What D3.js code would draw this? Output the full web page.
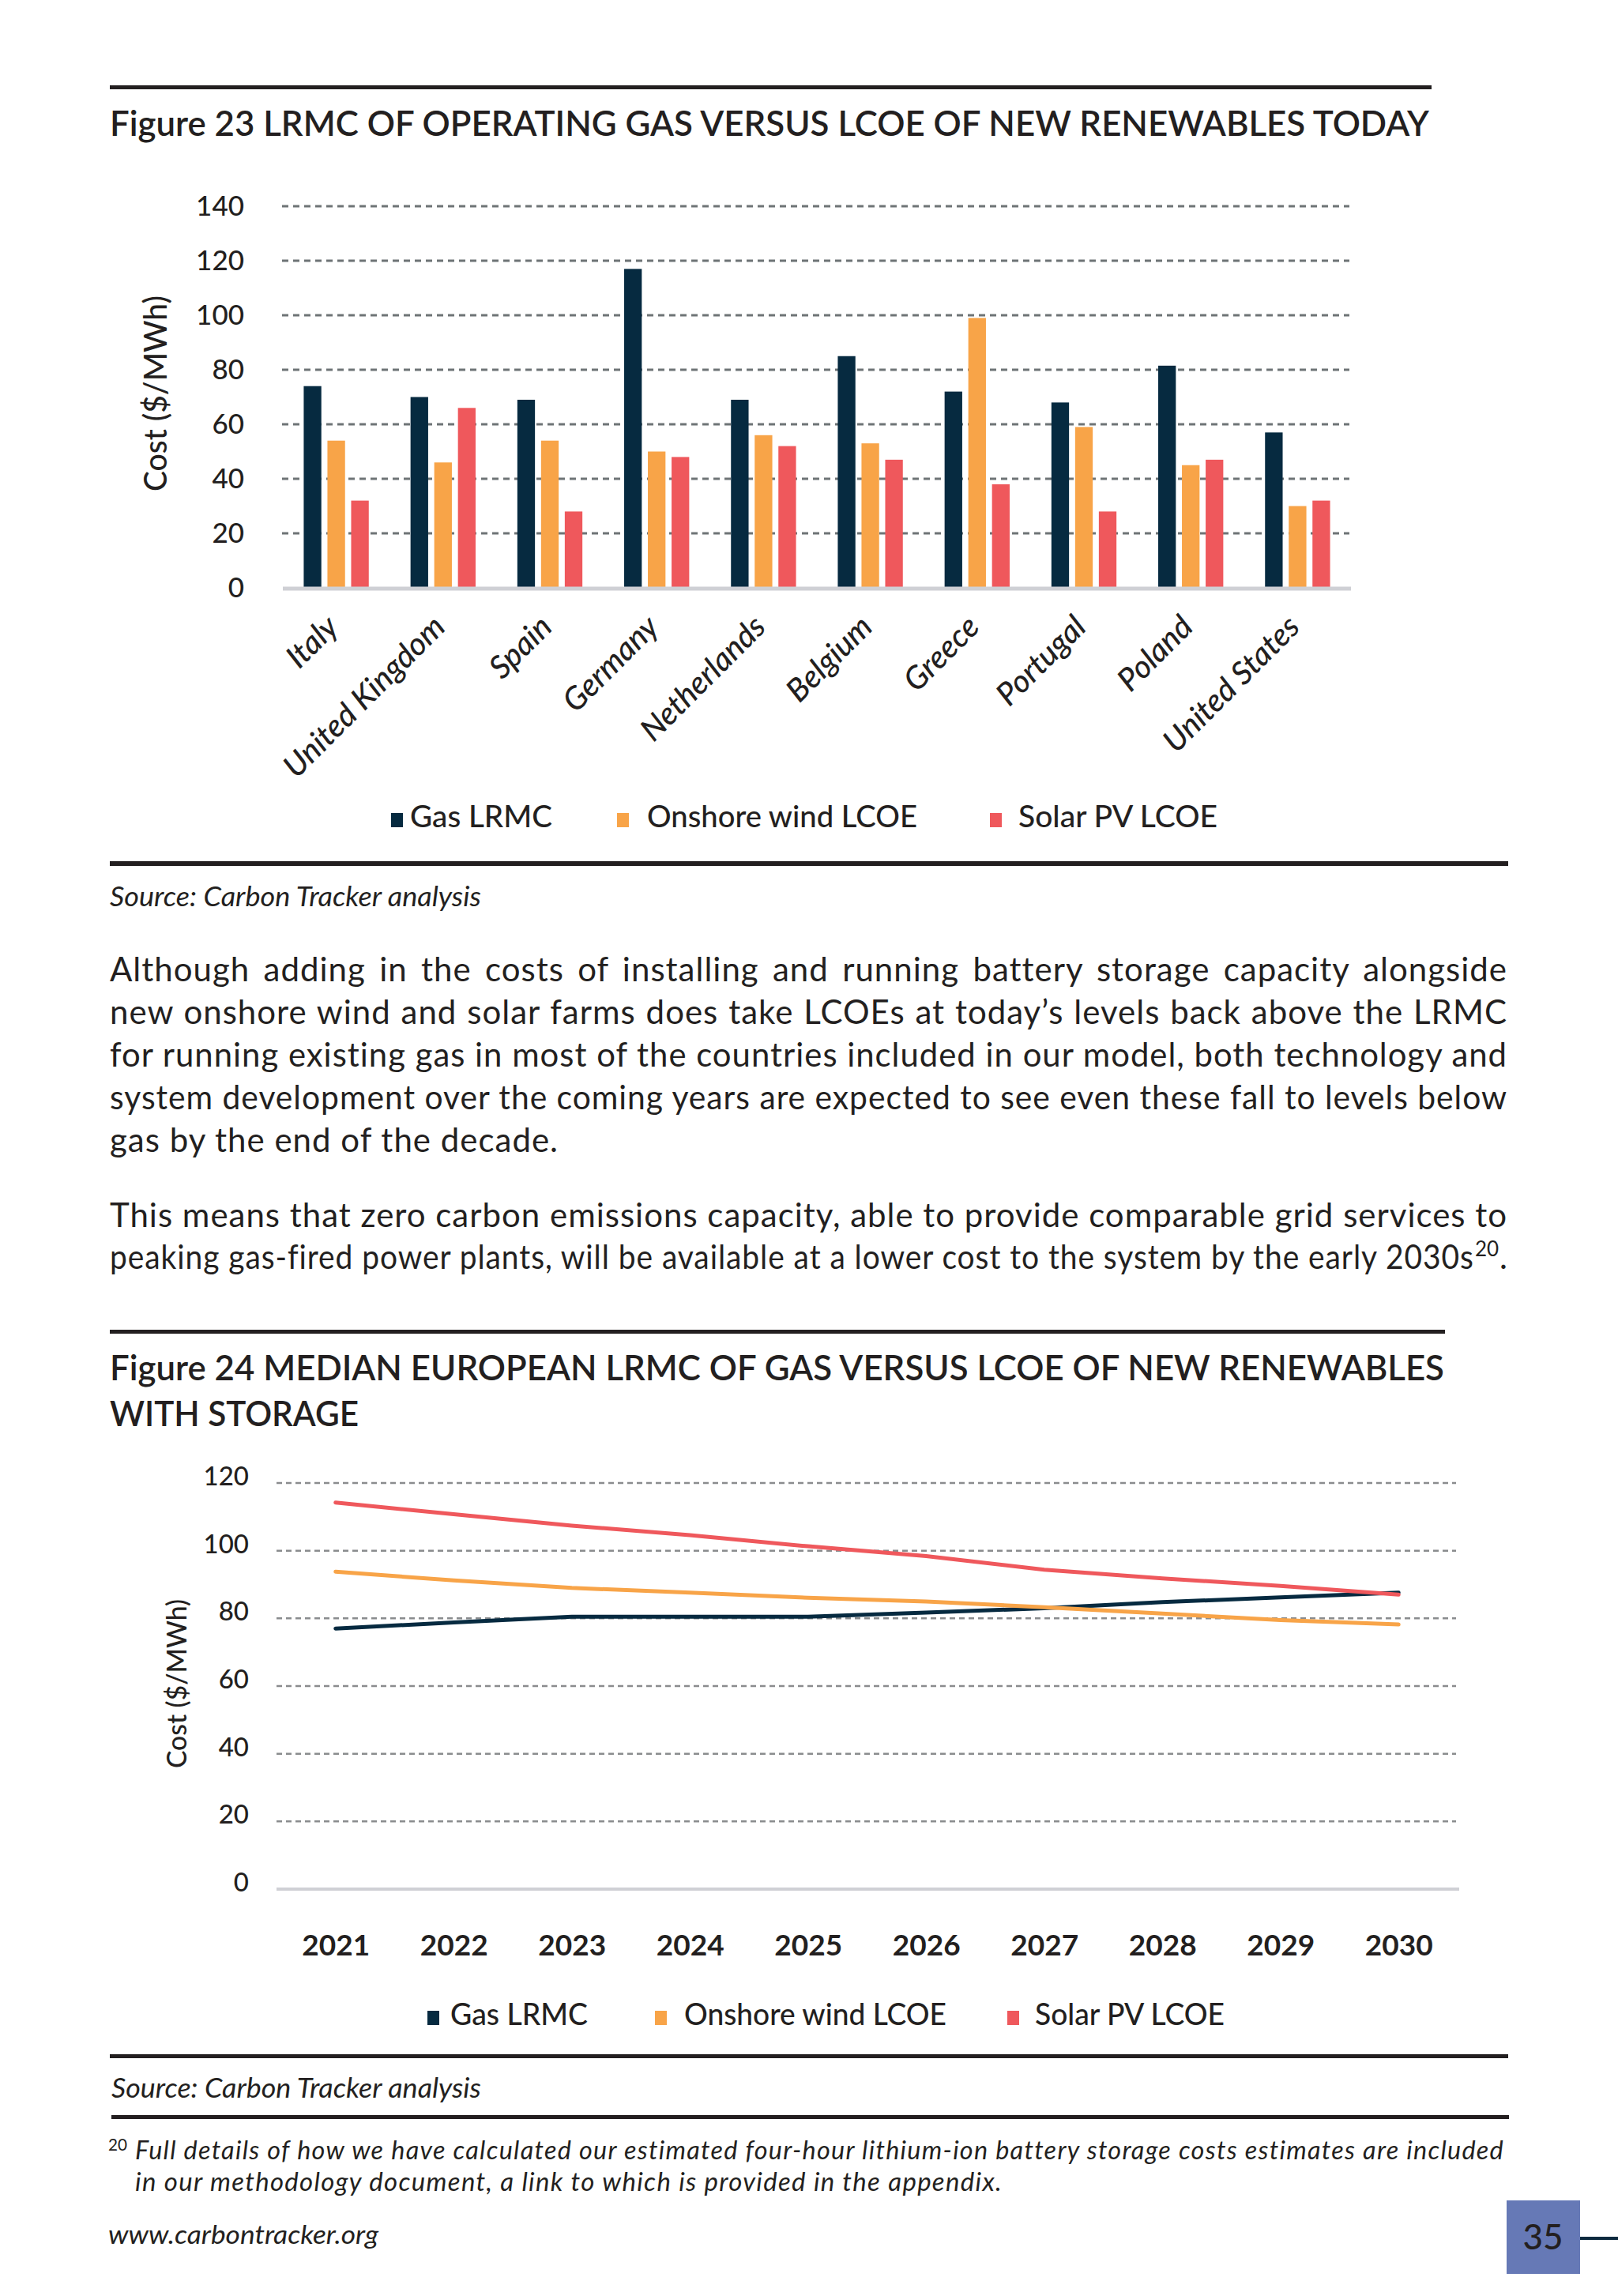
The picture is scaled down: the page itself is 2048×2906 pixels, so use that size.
<!DOCTYPE html>
<html>
<head>
<meta charset="utf-8">
<script src="https://cdn.jsdelivr.net/npm/d3@7"></script>
<style>
  html, body { margin: 0; padding: 0; background: #ffffff; }
  svg { display: block; }
  text { font-family: Lato, "Noto Sans", sans-serif; fill: #231f20; }
</style>
</head>
<body>
<svg id="page" width="2048" height="2906"></svg>
<script>
// ---------------- DATA ----------------
const countries = ["Italy", "United Kingdom", "Spain", "Germany", "Netherlands", "Belgium", "Greece", "Portugal", "Poland", "United States"];
const gasLRMC   = [74, 70, 69, 117, 69, 85, 72, 68, 81.5, 57];
const windLCOE  = [54, 46, 54, 50, 56, 53, 99, 59, 45, 30];
const solarLCOE = [32, 66, 28, 48, 52, 47, 38, 28, 47, 32];
const barTicks  = [0, 20, 40, 60, 80, 100, 120, 140];

const years      = [2021, 2022, 2023, 2024, 2025, 2026, 2027, 2028, 2029, 2030];
const gasLine    = [77, 78.8, 80.5, 80.5, 80.5, 81.7, 83, 84.8, 86.2, 87.6];
const windLine   = [93.8, 91.2, 89, 87.6, 86.1, 85, 83.3, 81.4, 79.5, 78.2];
const solarLine  = [114.2, 110.8, 107.4, 104.6, 101.3, 98.4, 94.4, 91.8, 89.6, 87];
const lineTicks  = [0, 20, 40, 60, 80, 100, 120];

const seriesNames = ["Gas LRMC", "Onshore wind LCOE", "Solar PV LCOE"];
const seriesColors = ["#062a40", "#f8a448", "#ef585c"];

const para1 = [
  "Although adding in the costs of installing and running battery storage capacity alongside",
  "new onshore wind and solar farms does take LCOEs at today\u2019s levels back above the LRMC",
  "for running existing gas in most of the countries included in our model, both technology and",
  "system development over the coming years are expected to see even these fall to levels below",
  "gas by the end of the decade."
];
const para2 = [
  "This means that zero carbon emissions capacity, able to provide comparable grid services to",
  "peaking gas-fired power plants, will be available at a lower cost to the system by the early 2030s"
];
const footnote = [
  "Full details of how we have calculated our estimated four-hour lithium-ion battery storage costs estimates are included",
  "in our methodology document, a link to which is provided in the appendix."
];

// ---------------- HELPERS ----------------
const svg = d3.select("#page");
const INK = "#231f20";

function fit(node, w) {
  node.setAttribute("textLength", w);
  node.setAttribute("lengthAdjust", "spacingAndGlyphs");
}
function justify(node, w) {
  const n = node.getComputedTextLength();
  const spaces = (node.textContent.match(/ /g) || []).length;
  if (n < w && spaces > 0) {
    node.setAttribute("word-spacing", ((w - n) / spaces).toFixed(2));
  } else if (n > w) {
    fit(node, w);
  }
}
function rule(x, y, w, h) {
  svg.append("rect").attr("x", x).attr("y", y).attr("width", w).attr("height", h).attr("fill", INK);
}
function txt(x, y, s, size, opts = {}) {
  const t = svg.append("text").attr("x", x).attr("y", y).attr("font-size", size).text(s);
  if (opts.weight) t.attr("font-weight", opts.weight);
  if (opts.italic) t.attr("font-style", "italic");
  if (opts.anchor) t.attr("text-anchor", opts.anchor);
  if (opts.fill) t.attr("fill", opts.fill);
  if (opts.ls) t.attr("letter-spacing", opts.ls);
  if (opts.width) fit(t.node(), opts.width);
  return t;
}
function legend(items) {
  items.forEach((it, i) => {
    svg.append("rect").attr("x", it.mx).attr("y", it.y - 18).attr("width", 15).attr("height", 18)
      .attr("fill", seriesColors[i]);
    txt(it.tx, it.y, seriesNames[i], 38, { weight: 500, width: it.tw });
  });
}

// ---------------- FIGURE 23 ----------------
rule(139, 108, 1673, 5);
txt(139, 172, "Figure 23 LRMC OF OPERATING GAS VERSUS LCOE OF NEW RENEWABLES TODAY", 44, { weight: 600, width: 1670 });

const y1 = d3.scaleLinear().domain([0, 140]).range([744, 261]);
const x1 = d3.scaleBand().domain(countries).range([358, 1710]).paddingInner(0.391).paddingOuter(0.1955);
const xs1 = d3.scaleBand().domain(seriesNames).range([0, x1.bandwidth()]).paddingInner(0.257).paddingOuter(0);

const g1 = svg.append("g");
g1.append("g").selectAll("line").data(barTicks.filter(d => d > 0)).join("line")
  .attr("x1", 357).attr("x2", 1708).attr("y1", d => y1(d)).attr("y2", d => y1(d))
  .attr("stroke", "#6e7476").attr("stroke-width", 3).attr("stroke-dasharray", "8,6");
const ax1 = g1.append("g").attr("transform", "translate(321,0)")
  .call(d3.axisLeft(y1).tickValues(barTicks).tickSize(0).tickPadding(12));
ax1.select(".domain").remove();
ax1.selectAll("text").attr("font-size", 35).attr("font-weight", 500).attr("fill", INK)
  .style("font-family", "Lato, 'Noto Sans', sans-serif");

const barSeries = [gasLRMC, windLCOE, solarLCOE];
const groups = g1.append("g").selectAll("g").data(countries).join("g")
  .attr("transform", d => `translate(${x1(d)},0)`);
groups.selectAll("rect").data((c, ci) => barSeries.map((s, si) => ({ name: seriesNames[si], v: s[ci], si })))
  .join("rect")
  .attr("x", d => xs1(d.name)).attr("width", xs1.bandwidth())
  .attr("y", d => y1(d.v)).attr("height", d => y1(0) - y1(d.v))
  .attr("fill", d => seriesColors[d.si]);
g1.append("line").attr("x1", 358).attr("x2", 1710).attr("y1", 745).attr("y2", 745)
  .attr("stroke", "#cfd0d5").attr("stroke-width", 5);

g1.append("g").selectAll("text").data(countries).join("text")
  .attr("transform", d => `translate(${x1(d) + x1.bandwidth() / 2 + 5},796) rotate(-45)`)
  .attr("text-anchor", "end").attr("font-size", 40).attr("font-style", "italic").attr("font-weight", 500)
  .text(d => d);

svg.append("text").attr("transform", "translate(211,498) rotate(-90)").attr("text-anchor", "middle")
  .attr("font-size", 40).attr("font-weight", 500).text("Cost ($/MWh)")
  .each(function () { fit(this, 248); });

legend([
  { mx: 495, tx: 519, tw: 180, y: 1047 },
  { mx: 781, tx: 819, tw: 342, y: 1047 },
  { mx: 1253, tx: 1289, tw: 252, y: 1047 }
]);

rule(139, 1090, 1770, 6);
txt(139, 1147, "Source: Carbon Tracker analysis", 34, { italic: true, width: 470 });

// ---------------- BODY TEXT ----------------
const p1Base = [1242, 1296, 1350, 1404, 1458];
para1.forEach((s, i) => {
  const t = txt(139, p1Base[i], s, 42, { ls: 1 });
  if (i < para1.length - 1) justify(t.node(), 1769);
});
const p2Base = [1553, 1606];
para2.forEach((s, i) => {
  const t = txt(139, p2Base[i], s, 42, { ls: 1 });
  if (i === 1) {
    // superscript note marker and final period as separate texts after the justified line
    const sup = txt(0, p2Base[i] - 16, "20", 26);
    const dot = txt(0, p2Base[i], ".", 42);
    const supW = sup.node().getComputedTextLength();
    const dotW = dot.node().getComputedTextLength();
    const lineW = 1769 - supW - dotW - 2;
    justify(t.node(), lineW);
    sup.attr("x", 139 + lineW + 1);
    dot.attr("x", 139 + lineW + 1 + supW + 1);
  } else {
    justify(t.node(), 1769);
  }
});

// ---------------- FIGURE 24 ----------------
rule(139, 1683, 1690, 5);
txt(139, 1747, "Figure 24 MEDIAN EUROPEAN LRMC OF GAS VERSUS LCOE OF NEW RENEWABLES", 44, { weight: 600, width: 1689 });
txt(139, 1805, "WITH STORAGE", 44, { weight: 600, width: 315 });

const y2 = d3.scaleLinear().domain([0, 120]).range([2391, 1877]);
const x2 = d3.scalePoint().domain(years).range([350, 1845]).padding(0.5);
const g2 = svg.append("g");
g2.append("g").selectAll("line").data(lineTicks.filter(d => d > 0)).join("line")
  .attr("x1", 350).attr("x2", 1843).attr("y1", d => y2(d)).attr("y2", d => y2(d))
  .attr("stroke", "#8a8c8e").attr("stroke-width", 2.5).attr("stroke-dasharray", "7,5");
g2.append("line").attr("x1", 350).attr("x2", 1847).attr("y1", 2391).attr("y2", 2391)
  .attr("stroke", "#cfd0d5").attr("stroke-width", 4);

const ax2 = g2.append("g").attr("transform", "translate(327,0)")
  .call(d3.axisLeft(y2).tickValues(lineTicks).tickSize(0).tickPadding(12));
ax2.select(".domain").remove();
ax2.selectAll("text").attr("font-size", 33).attr("font-weight", 500).attr("fill", INK)
  .attr("y", -8)
  .style("font-family", "Lato, 'Noto Sans', sans-serif");

const axx2 = g2.append("g").attr("transform", "translate(0,2447)")
  .call(d3.axisBottom(x2).tickSize(0).tickPadding(0).tickFormat(d3.format("d")));
axx2.select(".domain").remove();
axx2.selectAll("text").attr("font-size", 37).attr("font-weight", 700).attr("fill", INK)
  .attr("dy", "0.75em")
  .style("font-family", "Lato, 'Noto Sans', sans-serif");

const lineGen = d3.line().x((d, i) => x2(years[i])).y(d => y2(d));
[gasLine, windLine, solarLine].forEach((s, i) => {
  g2.append("path").attr("d", lineGen(s)).attr("fill", "none")
    .attr("stroke", seriesColors[i]).attr("stroke-width", 5)
    .attr("stroke-linejoin", "round").attr("stroke-linecap", "round");
});

svg.append("text").attr("transform", "translate(236,2131) rotate(-90)").attr("text-anchor", "middle")
  .attr("font-size", 34).attr("font-weight", 500).text("Cost ($/MWh)")
  .each(function () { fit(this, 214); });

legend([
  { mx: 541, tx: 570, tw: 174, y: 2563 },
  { mx: 829, tx: 866, tw: 332, y: 2563 },
  { mx: 1275, tx: 1310, tw: 240, y: 2563 }
]);

rule(139, 2600, 1770, 5);
txt(141, 2655, "Source: Carbon Tracker analysis", 34, { italic: true, width: 468 });
rule(141, 2677, 1769, 5);

// ---------------- FOOTNOTE / FOOTER ----------------
txt(137, 2722, "20", 22, { width: 24 });
footnote.forEach((s, i) => {
  const t = txt(171, [2733, 2773][i], s, 33, { italic: true, ls: 1.3 });
  if (i === 0) justify(t.node(), 1733);
});
txt(137, 2840, "www.carbontracker.org", 32, { italic: true, width: 342 });

svg.append("rect").attr("x", 1907).attr("y", 2785).attr("width", 93).attr("height", 93).attr("fill", "#6679b6");
txt(1953, 2847, "35", 44, { anchor: "middle", fill: "#ffffff", weight: 500 });
svg.append("line").attr("x1", 2000).attr("x2", 2048).attr("y1", 2833).attr("y2", 2833)
  .attr("stroke", "#0d2a3f").attr("stroke-width", 4);
</script>
</body>
</html>
